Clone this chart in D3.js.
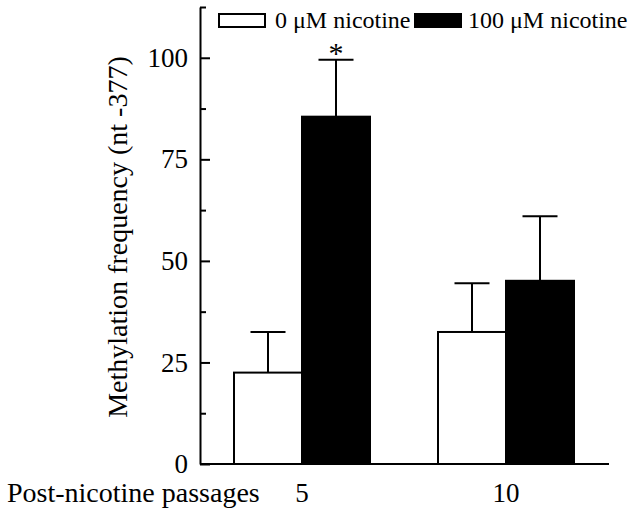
<!DOCTYPE html>
<html>
<head>
<meta charset="utf-8">
<title>Methylation frequency</title>
<style>
  body { margin: 0; background: #fff; }
  svg text { font-family: "Liberation Serif", "DejaVu Serif", "Times New Roman", Times, serif; fill: #000; }
</style>
</head>
<body>
<script src="https://cdn.jsdelivr.net/npm/d3@7/dist/d3.min.js"></script>
<script>
// data
var passages = ["5", "10"];
var series = ["0 \u03bcM nicotine", "100 \u03bcM nicotine"];
var means = [[22.5, 85.5], [32.5, 45.1]];   // [passage][series]
var errors = [[10.0, 14.0], [12.0, 15.9]];  // upper error only
var majorTicks = [0, 25, 50, 75, 100];
var minorTicks = [12.5, 37.5, 62.5, 87.5, 112.5];
var fills = ["#fff", "#000"];
var serif = "Liberation Serif, DejaVu Serif, serif";

var W = 629, H = 515;
var svg = d3.select("body").append("svg")
  .attr("width", W).attr("height", H)
  .attr("font-family", serif);

var x = d3.scaleBand()
  .domain(passages)
  .range([200, 608])
  .paddingInner(1 / 3)
  .paddingOuter(1 / 6);
var xs = d3.scaleBand()
  .domain(series)
  .range([0, x.bandwidth()]);
var y = d3.scaleLinear()
  .domain([0, 112.5])
  .range([464, 7]);

// bars
var groups = svg.selectAll("g.grp")
  .data(passages)
  .enter().append("g")
  .attr("class", "grp")
  .attr("transform", function(d) { return "translate(" + x(d) + ",0)"; });

var cells = groups.selectAll("g.cell")
  .data(function(d, i) {
    return series.map(function(s, j) {
      return {s: s, j: j, v: means[i][j], e: errors[i][j]};
    });
  })
  .enter().append("g").attr("class", "cell");

// error bars (up only), drawn behind bars
cells.append("line")
  .attr("x1", function(d) { return xs(d.s) + xs.bandwidth() / 2; })
  .attr("x2", function(d) { return xs(d.s) + xs.bandwidth() / 2; })
  .attr("y1", function(d) { return y(d.v); })
  .attr("y2", function(d) { return y(d.v + d.e); })
  .attr("stroke", "#000").attr("stroke-width", 2);
cells.append("line")
  .attr("x1", function(d) { return xs(d.s) + xs.bandwidth() / 2 - 17.5; })
  .attr("x2", function(d) { return xs(d.s) + xs.bandwidth() / 2 + 17.5; })
  .attr("y1", function(d) { return y(d.v + d.e); })
  .attr("y2", function(d) { return y(d.v + d.e); })
  .attr("stroke", "#000").attr("stroke-width", 2);

cells.append("rect")
  .attr("x", function(d) { return xs(d.s); })
  .attr("width", xs.bandwidth())
  .attr("y", function(d) { return y(d.v); })
  .attr("height", function(d) { return y(0) - y(d.v); })
  .attr("fill", function(d) { return fills[d.j]; })
  .attr("stroke", "#000").attr("stroke-width", 2);

// significance mark
svg.append("text")
  .attr("x", x("5") + xs(series[1]) + xs.bandwidth() / 2)
  .attr("y", y(means[0][1] + errors[0][1]) + 3)
  .attr("text-anchor", "middle")
  .style("font-size", "30px")
  .text("*");

// y axis, ticks pointing inward
var yAxis = d3.axisLeft(y)
  .tickValues(majorTicks)
  .tickSizeInner(-10)
  .tickSizeOuter(0)
  .tickPadding(12);
var gy = svg.append("g")
  .attr("transform", "translate(200,0)")
  .call(yAxis)
  .attr("font-family", serif);
gy.selectAll("text").style("font-size", "27px");

var yMinor = d3.axisLeft(y)
  .tickValues(minorTicks)
  .tickSizeInner(-6)
  .tickSizeOuter(0)
  .tickFormat("");
svg.append("g")
  .attr("transform", "translate(200,0)")
  .call(yMinor)
  .select(".domain").remove();

// x axis
var xAxis = d3.axisBottom(x)
  .tickSize(0)
  .tickPadding(19);
var gx = svg.append("g")
  .attr("transform", "translate(0,464)")
  .call(xAxis)
  .attr("font-family", serif);
gx.selectAll("text").style("font-size", "27px");
gx.select(".domain").attr("d", "M200,0H609");

svg.selectAll(".domain, .tick line")
  .attr("stroke", "#000").attr("stroke-width", 2);

svg.append("text")
  .attr("x", 7).attr("y", 502)
  .style("font-size", "28px")
  .text("Post-nicotine passages");

svg.append("text")
  .attr("transform", "translate(127,237) rotate(-90)")
  .attr("text-anchor", "middle")
  .style("font-size", "28px")
  .text("Methylation frequency (nt -377)");

// legend
var legX = [219, 415];
var leg = svg.selectAll("g.leg")
  .data(series)
  .enter().append("g")
  .attr("class", "leg")
  .attr("transform", function(d, i) { return "translate(" + legX[i] + ",14)"; });
leg.append("rect")
  .attr("width", 46).attr("height", 13)
  .attr("fill", function(d, i) { return fills[i]; })
  .attr("stroke", "#000").attr("stroke-width", 2);
leg.append("text")
  .attr("x", function(d, i) { return i ? 53 : 56; })
  .attr("y", 14)
  .style("font-size", "24px")
  .text(function(d) { return d; });
</script>
</body>
</html>
